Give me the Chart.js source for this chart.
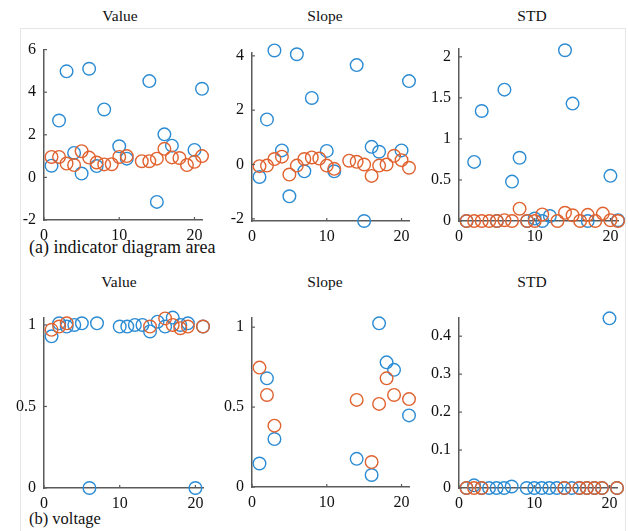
<!DOCTYPE html>
<html><head><meta charset="utf-8">
<script src="https://cdn.jsdelivr.net/npm/chart.js@4.4.1/dist/chart.umd.min.js"></script>
<style>
body{margin:0;background:#fff;width:628px;height:531px;overflow:hidden;position:relative;font-family:"Liberation Serif","Times New Roman",serif;}
canvas{position:absolute;}
.t{position:absolute;font-size:15.5px;line-height:18px;color:#111;transform:translate(-50%,-50%);white-space:nowrap;}
.cap{position:absolute;line-height:20px;color:#111;white-space:nowrap;}
.frame{position:absolute;left:20px;top:28px;width:604px;height:520px;border:1px solid #e6e6e6;border-bottom:none;}
</style></head><body>
<div class="frame"></div>
<div class="t" style="left:120px;top:16px">Value</div>
<div class="t" style="left:325px;top:16px">Slope</div>
<div class="t" style="left:532px;top:16px">STD</div>
<div class="t" style="left:119px;top:282px">Value</div>
<div class="t" style="left:325px;top:282px">Slope</div>
<div class="t" style="left:532px;top:282px">STD</div>
<div class="cap" style="left:29px;top:237px;font-size:18px">(a) indicator diagram area</div>
<div class="cap" style="left:29px;top:509px;font-size:16.5px">(b) voltage</div>
<script>
// ---------- data ----------
const xTickValues = [0, 10, 20];

// (a) indicator diagram area - Value
const aValueBlueX = [1,2,3,4,5,6,7,8,10,11,14,15,16,17,20,21];
const aValueBlueY = [0.55,2.67,4.98,1.15,0.18,5.1,0.53,3.19,1.46,0.88,4.52,-1.15,2.02,1.49,1.29,4.16];
const aValueOrangeX = [1,2,3,4,5,6,7,8,9,10,11,13,14,15,16,17,18,19,20,21];
const aValueOrangeY = [0.96,0.96,0.65,0.58,1.23,0.93,0.7,0.61,0.62,0.96,1.0,0.76,0.76,0.88,1.34,0.94,0.91,0.58,0.73,1.0];
const aValueYTicks = [-2,0,2,4,6];

// (a) Slope
const aSlopeBlueX = [1,2,3,4,5,6,7,8,10,11,14,15,16,17,20,21];
const aSlopeBlueY = [-0.46,1.66,4.2,0.52,-1.17,4.06,-0.25,2.45,0.5,-0.25,3.66,-2.08,0.65,0.47,0.52,3.07];
const aSlopeOrangeX = [1,2,3,4,5,6,7,8,9,10,11,13,14,15,16,17,18,19,20,21];
const aSlopeOrangeY = [-0.06,-0.04,0.2,0.29,-0.37,-0.04,0.2,0.26,0.22,-0.04,-0.16,0.14,0.1,0,-0.42,-0.04,0,0.32,0.16,-0.12];
const aSlopeYTicks = [-2,0,2,4];

// (a) STD
const aStdBlueX = [1,2,3,5,6,7,8,9,10,11,12,14,15,17,20,21];
const aStdBlueY = [0,0.72,1.34,0,1.6,0.48,0.77,0,0.03,0,0.06,2.08,1.43,0,0.55,0.01];
const aStdOrangeX = [1,2,3,4,5,6,7,8,9,10,11,13,14,15,16,17,18,19,20,21];
const aStdOrangeY = [0,0,0,0,0,0.01,0,0.15,0,0,0.08,0,0.1,0.07,0,0.075,0,0.09,0.01,0];
const aStdYTicks = [0,0.5,1,1.5,2];

// (b) voltage - Value
const bValueBlueX = [1,2,3,4,5,6,7,10,11,12,13,14,15,16,17,18,19,20,21];
const bValueBlueY = [0.93,1.01,0.99,1.0,1.01,0,1.01,0.99,0.99,1.0,1.0,0.96,1.02,0.99,1.045,1.0,1.01,0,0.99];
const bValueOrangeX = [1,2,3,14,16,17,18,19,21];
const bValueOrangeY = [0.97,0.99,1.01,0.99,1.04,1.0,0.98,0.99,0.99];
const bValueYTicks = [0,0.5,1];

// (b) Slope
const bSlopeBlueX = [1,2,3,14,16,17,18,19,21];
const bSlopeBlueY = [0.147,0.68,0.30,0.176,0.075,1.024,0.78,0.733,0.448];
const bSlopeOrangeX = [1,2,3,14,16,17,18,19,21];
const bSlopeOrangeY = [0.747,0.576,0.384,0.545,0.156,0.52,0.68,0.576,0.55];
const bSlopeYTicks = [0,0.5,1];

// (b) STD
const bStdBlueX = [1,2,3,4,5,6,7,9,10,11,12,13,14,15,16,17,18,19,20,21];
const bStdBlueY = [0,0.007,0,0,0,0,0.004,0,0,0,0,0,0,0,0,0,0,0,0.447,0];
const bStdOrangeX = [1,2,3,14,16,17,18,19,21];
const bStdOrangeY = [0,0,0,0,0,0,0,0,0];
const bStdYTicks = [0,0.1,0.2,0.3,0.4];

// ---------- style ----------
const BLUE = '#2b8bd3';
const ORANGE = '#e0622f';
const AXIS = '#5a5a5a';
const FONT = {family:'"Liberation Serif","Times New Roman",serif', size:16};

const inwardTicks = {
  id:'inwardTicks',
  afterDraw(chart){
    const ctx = chart.ctx, xs = chart.scales.x, ys = chart.scales.y, a = chart.chartArea;
    ctx.save(); ctx.strokeStyle = AXIS; ctx.lineWidth = 1.2;
    xs.ticks.forEach(t => { const p = xs.getPixelForValue(t.value); ctx.beginPath(); ctx.moveTo(p, a.bottom); ctx.lineTo(p, a.bottom - 3); ctx.stroke(); });
    ys.ticks.forEach(t => { const p = ys.getPixelForValue(t.value); ctx.beginPath(); ctx.moveTo(a.left, p); ctx.lineTo(a.left + 3, p); ctx.stroke(); });
    ctx.restore();
  }
};

function pts(xs, ys){ return xs.map((x,i)=>({x:x, y:ys[i]})); }

function panel(area, yMin, yMax, yTicks, bx, by, ox, oy){
  const padT = 12, padR = 12, yW = 42, xH = 30;
  const cv = document.createElement('canvas');
  const w = area.R - area.L + yW + padR, h = area.B - area.T + padT + xH;
  cv.width = w; cv.height = h;
  cv.style.left = (area.L - yW) + 'px'; cv.style.top = (area.T - padT) + 'px';
  cv.style.width = w + 'px'; cv.style.height = h + 'px';
  document.body.appendChild(cv);
  const ds = (data, color, order) => ({data, order, showLine:false, clip:false,
    pointStyle:'circle', pointRadius:6.3, pointHoverRadius:6.3, pointBorderWidth:1.4,
    borderColor:color, backgroundColor:'rgba(0,0,0,0)', pointBackgroundColor:'rgba(0,0,0,0)', pointBorderColor:color});
  new Chart(cv, {
    type:'scatter',
    data:{datasets:[ds(pts(bx,by), BLUE, 1), ds(pts(ox,oy), ORANGE, 0)]},
    options:{
      responsive:false, animation:false, devicePixelRatio:1,
      layout:{padding:{top:padT, right:padR, left:0, bottom:0}},
      plugins:{legend:{display:false}, tooltip:{enabled:false}},
      scales:{
        x:{type:'linear', min:0, max:21,
           afterBuildTicks:s=>{ s.ticks = xTickValues.map(v=>({value:v})); },
           afterFit:s=>{ s.height = xH; },
           grid:{display:false, drawTicks:false},
           border:{display:true, color:AXIS, width:1.5},
           ticks:{font:FONT, color:'#111', padding:6, maxRotation:0, autoSkip:false, callback:v=>String(v)}},
        y:{type:'linear', min:yMin, max:yMax,
           afterBuildTicks:s=>{ s.ticks = yTicks.map(v=>({value:v})); },
           afterFit:s=>{ s.width = yW; },
           grid:{display:false, drawTicks:false},
           border:{display:true, color:AXIS, width:1.5},
           ticks:{font:FONT, color:'#111', padding:8, autoSkip:false, callback:v=>String(+(+v).toFixed(2))}}
      }
    },
    plugins:[inwardTicks]
  });
}

panel({L:44,R:202,T:44,B:220}, -2, 6, aValueYTicks, aValueBlueX, aValueBlueY, aValueOrangeX, aValueOrangeY);
panel({L:252,R:409,T:47,B:221}, -2.08, 4.12, aSlopeYTicks, aSlopeBlueX, aSlopeBlueY, aSlopeOrangeX, aSlopeOrangeY);
panel({L:459,R:618,T:43,B:221}, 0, 2.1, aStdYTicks, aStdBlueX, aStdBlueY, aStdOrangeX, aStdOrangeY);
panel({L:44,R:203,T:312,B:488}, 0, 1.045, bValueYTicks, bValueBlueX, bValueBlueY, bValueOrangeX, bValueOrangeY);
panel({L:252,R:409,T:312,B:487}, 0, 1.06, bSlopeYTicks, bSlopeBlueX, bSlopeBlueY, bSlopeOrangeX, bSlopeOrangeY);
panel({L:459,R:617,T:312,B:488}, 0, 0.449, bStdYTicks, bStdBlueX, bStdBlueY, bStdOrangeX, bStdOrangeY);
</script>
</body></html>
